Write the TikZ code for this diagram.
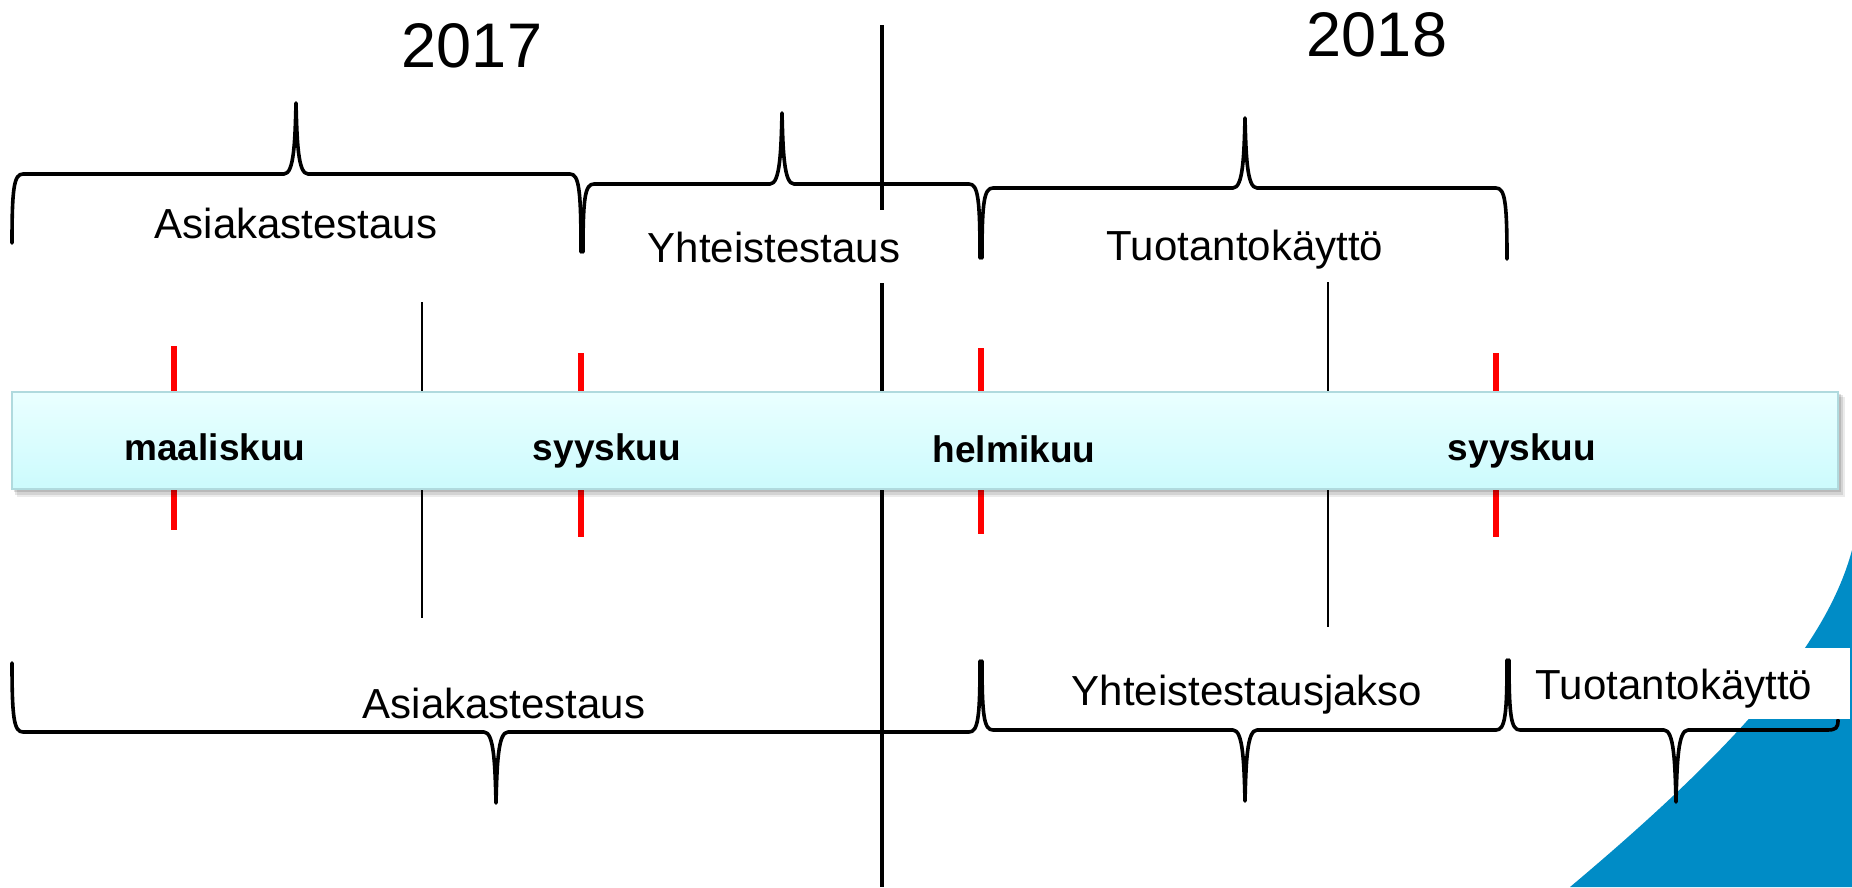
\documentclass[tikz,border=0pt]{standalone}
\usepackage{fontspec}
\setmainfont{Liberation Sans}
\definecolor{barTop}{RGB}{234,255,255}
\definecolor{barBot}{RGB}{204,251,253}
\definecolor{barLine}{RGB}{176,218,222}
\definecolor{blueShape}{RGB}{0,140,198}
\tikzset{
  brace/.style={line width=3.6pt, line join=round, line cap=round, black},
  lbl/.style={font=\fontsize{42}{50}\selectfont, anchor=base, inner sep=0pt},
  month/.style={font=\bfseries\fontsize{37}{44}\selectfont, anchor=base, inner sep=0pt},
  yearlbl/.style={font=\fontsize{63}{70}\selectfont, anchor=base, inner sep=0pt},
  redtick/.style={red, line width=5.5pt},
  thinline/.style={black, line width=2pt},
  mainline/.style={black, line width=4pt}
}
\newcommand\curlybr[7]{% x1 x2 xt yh yL yR yt
  \draw[brace] ({#1},{#5}) .. controls ({#1},{#4+0.2*(#5-#4)}) and ({#1+2},{#4}) .. ({#1+11},{#4})
    -- ({#3-12},{#4}) .. controls ({#3-2},{#4}) and ({#3-1},{#4+0.45*(#7-#4)}) .. ({#3},{#7})
    .. controls ({#3+1},{#4+0.45*(#7-#4)}) and ({#3+2},{#4}) .. ({#3+12},{#4})
    -- ({#2-11},{#4}) .. controls ({#2-2},{#4}) and ({#2},{#4+0.2*(#6-#4)}) .. ({#2},{#6});
}
\begin{document}
\begin{tikzpicture}[x=1pt,y=-1pt]
\useasboundingbox (0,0) rectangle (1852,887);
\fill[white] (0,0) rectangle (1852,887);
% blue corner shape
\fill[blueShape] (1852,550) .. controls (1828,640) and (1745,740) .. (1570,887) -- (1852,887) -- cycle;
% vertical lines
\draw[mainline] (882,25) -- (882,887);
\draw[thinline] (422,302) -- (422,618);
\draw[thinline] (1328,282) -- (1328,627);
\draw[redtick] (174,346) -- (174,530);
\draw[redtick] (581,353) -- (581,537);
\draw[redtick] (981,348) -- (981,534);
\draw[redtick] (1496,353) -- (1496,537);
% white box behind Yhteistestaus
\fill[white] (645,210) rectangle (905,283);
% years
\node[yearlbl] (y2017) at (472,67) {2017};
\node[yearlbl] (y2018) at (1377,56) {2018};
% top braces
\curlybr{12}{581}{296}{174}{243}{252}{103}
\curlybr{583}{980}{782}{184}{252}{258}{113}
\curlybr{982}{1507}{1245}{188}{258}{259}{118}
\node[lbl] (ta) at (296,238) {Asiakastestaus};
\node[lbl] (ty) at (774,262) {Yhteistestaus};
\node[lbl] (tt) at (1245,260) {Tuotantokäyttö};
% bar with shadow
\fill[black, opacity=0.08] (17,397) rectangle (1845,497);
\fill[black, opacity=0.10] (15,395) rectangle (1843,495);
\fill[black, opacity=0.12] (14,394) rectangle (1841,492);
\shade[top color=barTop, bottom color=barBot] (12,392) rectangle (1838,489);
\draw[barLine, line width=2pt] (12,392) rectangle (1838,489);
\node[month] (m1) at (215,460) {maaliskuu};
\node[month] (m2) at (607,460) {syyskuu};
\node[month] (m3) at (1014,462) {helmikuu};
\node[month] (m4) at (1522,460) {syyskuu};
% bottom braces
\curlybr{12}{980}{496}{732}{663}{661}{803}
\curlybr{982}{1507}{1245}{730}{661}{660}{801}
\curlybr{1509}{1838}{1676}{730}{660}{720}{802}
\node[lbl] (ba) at (504,718) {Asiakastestaus};
\node[lbl] (by) at (1247,705) {Yhteistestausjakso};
\fill[white] (1515,648) rectangle (1850,719);
\node[lbl] (bt) at (1674,699) {Tuotantokäyttö};
\end{tikzpicture}
\end{document}
